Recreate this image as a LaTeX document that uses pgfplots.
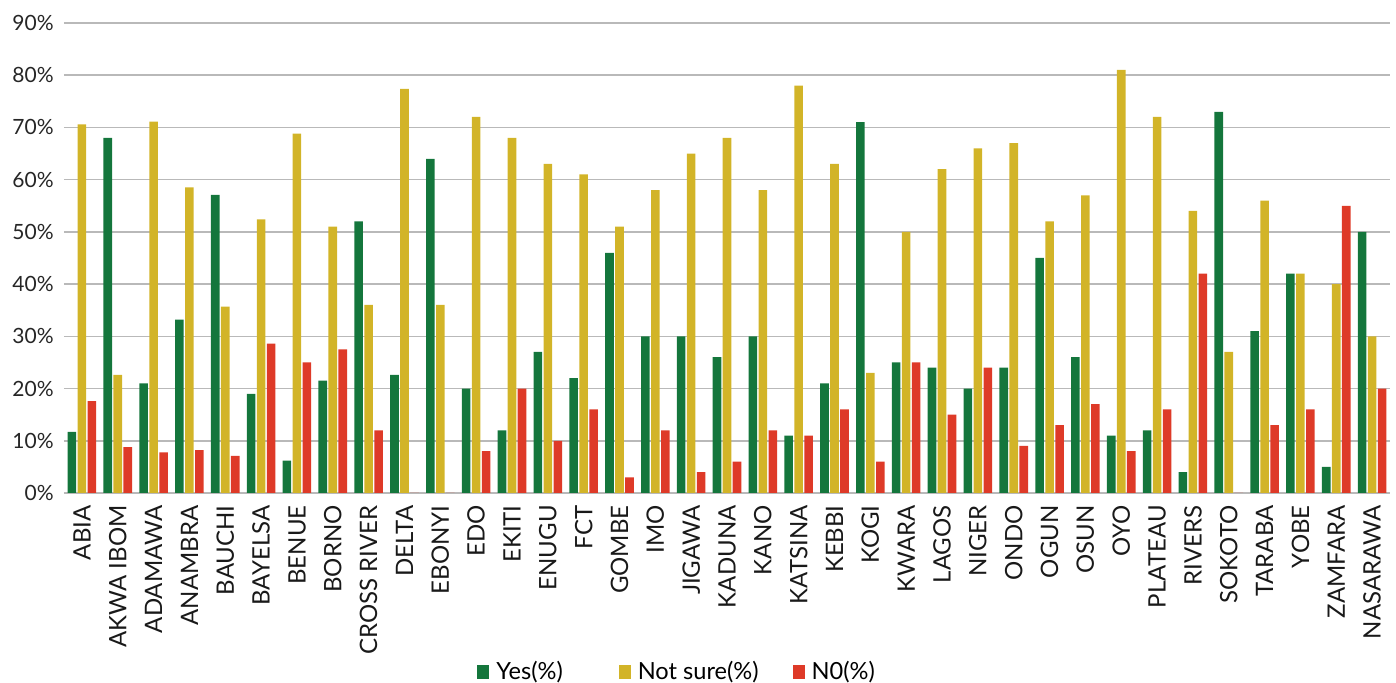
\documentclass[border=0pt]{standalone}
\usepackage{fontspec}
\setmainfont{Lato}
\usepackage{pgfplots}
\usepackage{pgfplotstable}
\pgfplotsset{compat=1.18}

\definecolor{yesgreen}{RGB}{20,118,60}
\definecolor{unsureyellow}{RGB}{210,180,40}
\definecolor{nored}{RGB}{222,58,40}
\definecolor{gridgray}{RGB}{185,185,185}

% Share of respondents per state: Yes / Not sure / No
\pgfplotstableread{
idx yes notsure no
0  11.7 70.6 17.6
1  68.0 22.6 8.8
2  21.0 71.1 7.8
3  33.2 58.5 8.2
4  57.1 35.7 7.1
5  19.0 52.4 28.6
6  6.2  68.8 25.0
7  21.5 51.0 27.5
8  52.0 36.0 12.0
9  22.6 77.4 0
10 64.0 36.0 0
11 20.0 72.0 8.0
12 12.0 68.0 20.0
13 27.0 63.0 10.0
14 22.0 61.0 16.0
15 46.0 51.0 3.0
16 30.0 58.0 12.0
17 30.0 65.0 4.0
18 26.0 68.0 6.0
19 30.0 58.0 12.0
20 11.0 78.0 11.0
21 21.0 63.0 16.0
22 71.0 23.0 6.0
23 25.0 50.0 25.0
24 24.0 62.0 15.0
25 20.0 66.0 24.0
26 24.0 67.0 9.0
27 45.0 52.0 13.0
28 26.0 57.0 17.0
29 11.0 81.0 8.0
30 12.0 72.0 16.0
31 4.0  54.0 42.0
32 73.0 27.0 0
33 31.0 56.0 13.0
34 42.0 42.0 16.0
35 5.0  40.0 55.0
36 50.0 30.0 20.0
}\survey

\begin{document}
\begin{tikzpicture}
\useasboundingbox (-32pt,-95pt) rectangle (666pt,246.5pt);
\begin{axis}[
  at={(0pt,0pt)}, anchor=south west,
  scale only axis,
  width=663pt, height=235pt,
  ybar=0.7pt, bar width=4.3pt,
  xmin=-0.5, xmax=36.5,
  ymin=0, ymax=90,
  ytick={0,10,...,90},
  yticklabel={\pgfmathprintnumber{\tick}\%},
  xtick={0,...,36},
  xticklabels={ABIA, AKWA IBOM, ADAMAWA, ANAMBRA, BAUCHI, BAYELSA, BENUE,
    BORNO, CROSS RIVER, DELTA, EBONYI, EDO, EKITI, ENUGU, FCT, GOMBE, IMO,
    JIGAWA, KADUNA, KANO, KATSINA, KEBBI, KOGI, KWARA, LAGOS, NIGER, ONDO,
    OGUN, OSUN, OYO, PLATEAU, RIVERS, SOKOTO, TARABA, YOBE, ZAMFARA, NASARAWA},
  /pgf/number format/assume math mode=true,
  major tick length=0pt,
  axis line style={draw=none},
  ymajorgrids,
  major grid style={draw=gridgray, line width=0.75pt},
  y tick label style={font=\fontsize{10.5}{12}\selectfont, color=black!85,
    anchor=east, inner sep=0pt, xshift=-5pt},
  x tick label style={font=\fontsize{12}{14}\selectfont, color=black!90,
    yshift=-6pt, rotate=90, anchor=east, inner sep=0pt,
    text height=8.6pt, text depth=0pt},
  legend columns=3,
  legend image code/.code={\fill[#1] (0pt,-3.5pt) rectangle (6pt,3.5pt);},
  legend style={
    at={(0.3115,0)}, anchor=west, yshift=-89.5pt,
    draw=none, inner sep=0pt,
    font=\fontsize{11.8}{13}\selectfont,
    nodes={inner sep=0pt},
    /tikz/column 1/.append style={column sep=3.5pt},
    /tikz/column 2/.append style={column sep=28pt},
    /tikz/column 3/.append style={column sep=3.5pt},
    /tikz/column 4/.append style={column sep=17pt},
    /tikz/column 5/.append style={column sep=3.5pt},
  },
]
\addplot[fill=yesgreen, draw=none] table[x=idx, y=yes] {\survey};
\addplot[fill=unsureyellow, draw=none] table[x=idx, y=notsure] {\survey};
\addplot[fill=nored, draw=none] table[x=idx, y=no] {\survey};
\legend{Yes(\%), Not sure(\%), N0(\%)}
\end{axis}
\end{tikzpicture}
\end{document}
